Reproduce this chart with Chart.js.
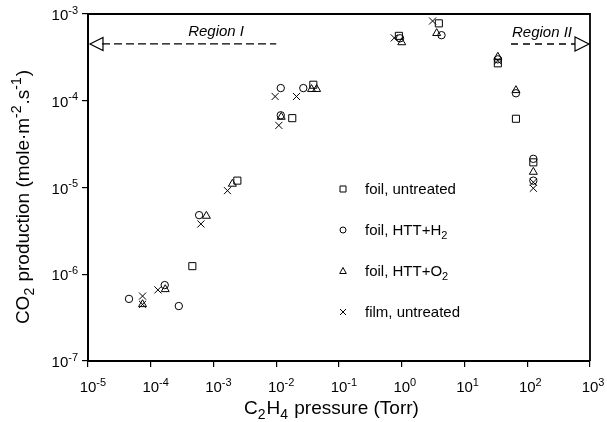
<!DOCTYPE html>
<html>
<head>
<meta charset="utf-8">
<script src="https://cdn.jsdelivr.net/npm/chart.js@4.4.1/dist/chart.umd.min.js"></script>
<style>
  body { margin: 0; background: #fff; }
</style>
</head>
<body>
<canvas id="myChart" width="607" height="422"></canvas>
<script>
// values: C2H4 pressure (Torr) vs CO2 production (mole m-2 s-1)
var foilUntreatedX = [4.6e-4, 2.4e-3, 1.8e-2, 3.9e-2, 0.9, 3.9, 34, 66, 125];
var foilUntreatedY = [1.24e-6, 1.2e-5, 6.3e-5, 1.53e-4, 5.6e-4, 7.8e-4, 2.7e-4, 6.2e-5, 1.95e-5];

var foilH2X = [4.5e-5, 1.67e-4, 2.8e-4, 5.9e-4, 1.18e-2, 1.18e-2, 2.7e-2, 0.94, 4.3, 34, 66, 125, 125];
var foilH2Y = [5.2e-7, 7.5e-7, 4.3e-7, 4.8e-6, 1.4e-4, 6.8e-5, 1.4e-4, 5.25e-4, 5.7e-4, 3.0e-4, 1.22e-4, 2.14e-5, 1.2e-5];

var foilO2X = [7.4e-5, 1.7e-4, 7.7e-4, 2.0e-3, 1.2e-2, 3.65e-2, 4.4e-2, 1.0, 3.6, 34, 66, 125];
var foilO2Y = [4.5e-7, 6.7e-7, 4.7e-6, 1.1e-5, 6.5e-5, 1.36e-4, 1.36e-4, 4.7e-4, 6.0e-4, 3.2e-4, 1.32e-4, 1.51e-5];

var filmX = [7.4e-5, 7.4e-5, 1.3e-4, 6.3e-4, 1.67e-3, 9.6e-3, 1.1e-2, 2.1e-2, 0.76, 3.1, 34, 125, 125];
var filmY = [5.6e-7, 4.5e-7, 6.6e-7, 3.8e-6, 9.2e-6, 1.12e-4, 5.2e-5, 1.12e-4, 5.3e-4, 8.3e-4, 2.9e-4, 1.15e-5, 9.8e-6];

var seriesLabels = ['foil, untreated', 'foil, HTT+H_{2}', 'foil, HTT+O_{2}', 'film, untreated'];
var xTickExps = [-5, -4, -3, -2, -1, 0, 1, 2, 3];
var yTickExps = [-7, -6, -5, -4, -3];
var xTitle = 'C_{2}H_{4} pressure (Torr)';
var yTitle = 'CO_{2} production (mole·m^{-2}.s^{-1})';
var regionLabels = ['Region I', 'Region II'];

var FONT = "'Liberation Sans', Arial, sans-serif";

function toPoints(xs, ys) {
    var pts = [];
    for (var i = 0; i < xs.length; i++) {
        pts.push({ x: xs[i], y: ys[i] });
    }
    return pts;
}

// split 'CO_{2}' style strings into pieces: mode 0 normal, 1 superscript, -1 subscript
function parseRich(str) {
    var parts = [];
    var re = /([_^])\{([^}]*)\}/g;
    var last = 0, m;
    while ((m = re.exec(str)) !== null) {
        if (m.index > last) parts.push({ t: str.slice(last, m.index), mode: 0 });
        parts.push({ t: m[2], mode: m[1] == '^' ? 1 : -1 });
        last = re.lastIndex;
    }
    if (last < str.length) parts.push({ t: str.slice(last), mode: 0 });
    return parts;
}

function richFont(size, mode, italic) {
    var s = mode == 0 ? size : Math.round(size * 0.72);
    return (italic ? 'italic ' : '') + s + 'px ' + FONT;
}

function richWidth(ctx, str, size, italic) {
    var w = 0;
    parseRich(str).forEach(function (p) {
        ctx.font = richFont(size, p.mode, italic);
        w += ctx.measureText(p.t).width + (p.mode != 0 ? 1 : 0);
    });
    return w;
}

function drawRich(ctx, str, x, y, size, align, italic) {
    var w = richWidth(ctx, str, size, italic);
    var cx = x;
    if (align == 'center') cx = x - w / 2;
    if (align == 'right') cx = x - w;
    ctx.textAlign = 'left';
    ctx.textBaseline = 'alphabetic';
    parseRich(str).forEach(function (p) {
        ctx.font = richFont(size, p.mode, italic);
        var dy = 0;
        if (p.mode == 1) dy = -size * 0.42;
        if (p.mode == -1) dy = size * 0.27;
        ctx.fillText(p.t, cx, y + dy);
        cx += ctx.measureText(p.t).width + (p.mode != 0 ? 1 : 0);
    });
}

function drawMarker(ctx, style, x, y) {
    ctx.beginPath();
    if (style == 'rect') {
        ctx.rect(x - 3, y - 3, 6, 6);
    } else if (style == 'circle') {
        ctx.arc(x, y, 3, 0, Math.PI * 2);
    } else if (style == 'triangle') {
        ctx.moveTo(x, y - 3.5);
        ctx.lineTo(x + 3.3, y + 2.5);
        ctx.lineTo(x - 3.3, y + 2.5);
        ctx.closePath();
    } else {
        ctx.moveTo(x - 3, y - 3); ctx.lineTo(x + 3, y + 3);
        ctx.moveTo(x + 3, y - 3); ctx.lineTo(x - 3, y + 3);
    }
    ctx.stroke();
}

var decorPlugin = {
    id: 'decor',
    afterDraw: function (chart) {
        var ctx = chart.ctx;
        var xs = chart.scales.x, ys = chart.scales.y;
        var area = chart.chartArea;
        ctx.save();
        ctx.fillStyle = '#000';
        ctx.strokeStyle = '#000';

        // top and right frame
        ctx.lineWidth = 1.8;
        ctx.beginPath();
        ctx.moveTo(area.left, area.top);
        ctx.lineTo(area.right, area.top);
        ctx.lineTo(area.right, area.bottom);
        ctx.stroke();

        // tick labels as 10^n
        xTickExps.forEach(function (e) {
            var px = xs.getPixelForValue(Math.pow(10, e));
            ctx.font = '15px ' + FONT;
            var w10 = ctx.measureText('10').width;
            drawRich(ctx, '10^{' + e + '}', px - w10 / 2, 392, 15, 'left');
        });
        yTickExps.forEach(function (e) {
            var py = ys.getPixelForValue(Math.pow(10, e));
            drawRich(ctx, '10^{' + e + '}', 79, py + 6, 15, 'right');
        });

        // axis titles
        drawRich(ctx, xTitle, 244, 414, 19, 'left');
        ctx.save();
        ctx.translate(29, 197);
        ctx.rotate(-Math.PI / 2);
        drawRich(ctx, yTitle, 0, 0, 19, 'center');
        ctx.restore();

        // legend
        var styles = chart.data.datasets.map(function (d) { return d.pointStyle; });
        ctx.lineWidth = 1;
        seriesLabels.forEach(function (lab, i) {
            var ly = 189 + i * 41;
            drawMarker(ctx, styles[i], 343, ly);
            drawRich(ctx, lab, 365, ly + 5, 15, 'left');
        });

        // region arrows
        var ry = ys.getPixelForValue(Math.pow(10, -3.345));
        ctx.lineWidth = 1.2;
        ctx.setLineDash([8, 4]);
        ctx.beginPath();
        ctx.moveTo(area.left + 14, ry);
        ctx.lineTo(xs.getPixelForValue(1e-2), ry);
        ctx.stroke();
        ctx.setLineDash([]);
        ctx.beginPath();
        ctx.moveTo(area.left + 2, ry);
        ctx.lineTo(area.left + 15, ry - 6.5);
        ctx.lineTo(area.left + 15, ry + 6.5);
        ctx.closePath();
        ctx.stroke();
        drawRich(ctx, regionLabels[0], xs.getPixelForValue(1.1e-3), 36, 15, 'center', true);

        ctx.lineWidth = 1.5;
        ctx.setLineDash([7, 5]);
        ctx.beginPath();
        ctx.moveTo(511, ry);
        ctx.lineTo(area.right - 15, ry);
        ctx.stroke();
        ctx.setLineDash([]);
        ctx.lineWidth = 1.2;
        ctx.beginPath();
        ctx.moveTo(area.right - 1, ry);
        ctx.lineTo(area.right - 15, ry - 7);
        ctx.lineTo(area.right - 15, ry + 7);
        ctx.closePath();
        ctx.stroke();
        drawRich(ctx, regionLabels[1], 572, 37, 15, 'right', true);

        ctx.restore();
    }
};

function makeSet(label, xs, ys, style, radius) {
    return {
        label: label,
        data: toPoints(xs, ys),
        pointStyle: style,
        pointRadius: radius,
        pointHoverRadius: radius,
        borderColor: '#000',
        backgroundColor: 'rgba(0,0,0,0)',
        borderWidth: 1,
        showLine: false,
        clip: false
    };
}

var ctx = document.getElementById('myChart').getContext('2d');

var myChart = new Chart(ctx, {
    type: 'scatter',
    data: {
        datasets: [
            makeSet(seriesLabels[0], foilUntreatedX, foilUntreatedY, 'rect', 5),
            makeSet(seriesLabels[1], foilH2X, foilH2Y, 'circle', 3.7),
            makeSet(seriesLabels[2], foilO2X, foilO2Y, 'triangle', 4.6),
            makeSet(seriesLabels[3], filmX, filmY, 'crossRot', 5)
        ]
    },
    options: {
        responsive: false,
        animation: false,
        devicePixelRatio: 1,
        layout: { padding: { left: 0, right: 17, top: 14, bottom: 0 } },
        plugins: {
            legend: { display: false },
            tooltip: { enabled: false }
        },
        scales: {
            x: {
                type: 'logarithmic',
                min: 1e-5,
                max: 1e3,
                afterBuildTicks: function (scale) {
                    scale.ticks = xTickExps.map(function (e) { return { value: Math.pow(10, e) }; });
                },
                afterFit: function (scale) { scale.height = 61; },
                ticks: { display: false },
                grid: { drawOnChartArea: false, drawTicks: true, tickLength: 6, color: '#000', lineWidth: 1.2 },
                border: { display: true, color: '#000', width: 2 }
            },
            y: {
                type: 'logarithmic',
                min: 1e-7,
                max: 1e-3,
                afterBuildTicks: function (scale) {
                    scale.ticks = yTickExps.map(function (e) { return { value: Math.pow(10, e) }; });
                },
                afterFit: function (scale) { scale.width = 88; },
                ticks: { display: false },
                grid: { drawOnChartArea: false, drawTicks: true, tickLength: 6, color: '#000', lineWidth: 1.2 },
                border: { display: true, color: '#000', width: 2 }
            }
        }
    },
    plugins: [decorPlugin]
});
</script>
</body>
</html>
